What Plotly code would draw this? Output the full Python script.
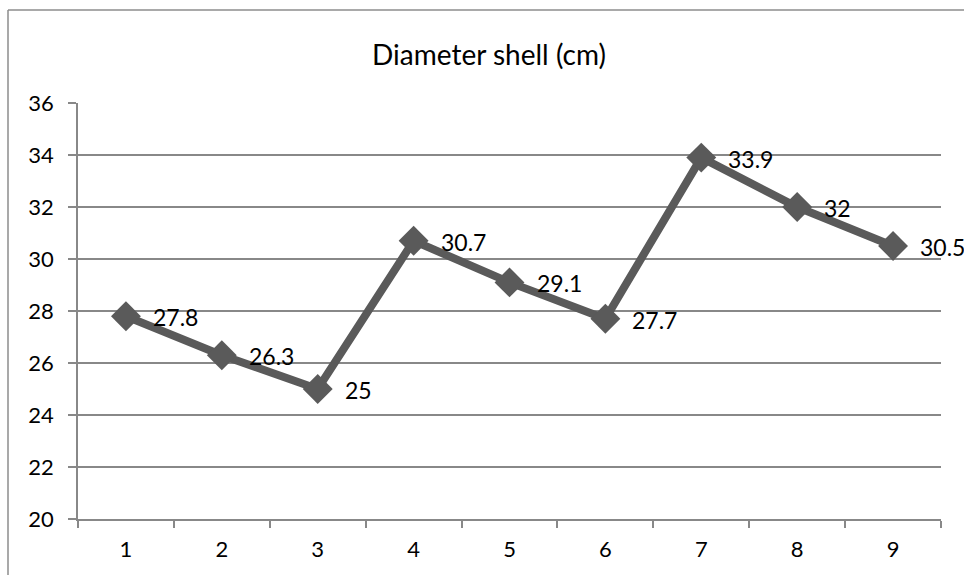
import plotly.graph_objects as go

categories = ["1", "2", "3", "4", "5", "6", "7", "8", "9"]
values = [27.8, 26.3, 25, 30.7, 29.1, 27.7, 33.9, 32, 30.5]
labels = ["27.8", "26.3", "25", "30.7", "29.1", "27.7", "33.9", "32", "30.5"]
y_ticks = [20, 22, 24, 26, 28, 30, 32, 34, 36]

FONT = "Lato"
W, H = 964, 575
L, R, T, B = 78, 23, 103, 56
pw, ph = W - L - R, H - T - B

fig = go.Figure()
fig.add_trace(go.Scatter(
    x=categories, y=values,
    mode="lines+markers",
    line=dict(color="#5a5a5a", width=8),
    marker=dict(symbol="diamond", size=23, color="#5a5a5a"),
    cliponaxis=False,
    showlegend=False,
))

# category axes index annotations by position
annotations = [
    dict(x=i, y=v, xref="x", yref="y", text=t, showarrow=False,
         xanchor="left", yanchor="middle", xshift=25, yshift=-1,
         font=dict(family=FONT, size=23, color="#000000"))
    for i, (v, t) in enumerate(zip(values, labels))
]

fig.update_layout(
    width=W, height=H,
    margin=dict(l=L, r=R, t=T, b=B),
    paper_bgcolor="white", plot_bgcolor="white",
    title=dict(text="Diameter shell (cm)", x=489 / W, xanchor="center",
               y=1 - 55 / H, yanchor="middle",
               font=dict(family=FONT, size=28, color="#000000")),
    xaxis=dict(type="category", range=[-0.5, 8.5], tickson="boundaries",
               ticks="outside", ticklen=7, tickcolor="#888888", tickwidth=1.5,
               showline=True, linecolor="#888888", linewidth=1.5,
               showgrid=False, zeroline=False, ticklabelstandoff=10,
               tickfont=dict(family=FONT, size=22, color="#000000")),
    yaxis=dict(range=[20, 36], tickvals=y_ticks, ticks="outside", ticklen=8,
               tickcolor="#888888", tickwidth=1.5,
               showline=True, linecolor="#888888", linewidth=1.5,
               showgrid=True, gridcolor="#888888", gridwidth=1.5,
               zeroline=False, ticklabelstandoff=10,
               tickfont=dict(family=FONT, size=22, color="#000000")),
    annotations=annotations,
    shapes=[
        dict(type="line", xref="paper", yref="paper",
             x0=(8 - L) / pw, x1=(8 - L) / pw, y0=-(H + 5 - (H - B)) / ph, y1=1 + (T - 10) / ph,
             line=dict(color="#8c8c8c", width=1.5)),
        dict(type="line", xref="paper", yref="paper",
             x0=(8 - L) / pw, x1=(W + 5 - L) / pw, y0=1 + (T - 10) / ph, y1=1 + (T - 10) / ph,
             line=dict(color="#8c8c8c", width=1.5)),
    ],
)

fig.write_html("out.html", post_script="document.body.style.margin='0';",
               config={"displayModeBar": False})
